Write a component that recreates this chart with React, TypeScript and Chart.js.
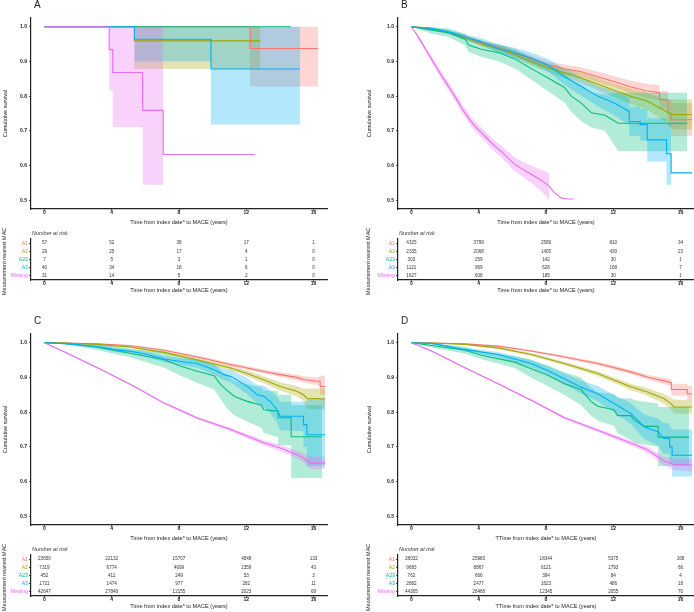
import React, { useEffect, useRef } from "react";
import { Chart, registerables } from "chart.js";

Chart.register(...registerables);
Chart.defaults.font.family = '"Liberation Sans", Arial, sans-serif';

type Row = [number, number, number | null, number | null];

const GROUPS = ["A1", "A2", "A23", "A3", "Missing"];
const COLORS = ["#F8766D", "#A3A500", "#00BF7D", "#00B0F6", "#E76BF3"];
const X_TICKS = [0, 4, 8, 12, 16];
const Y_TICKS = [0.5, 0.6, 0.7, 0.8, 0.9, 1.0];
const RISK_TIMES = [0, 4, 8, 12, 16];

// rows: [time, survival, lower CI, upper CI]
const A_A1: Row[] = [[0,1,1,1],[12.23,1,1,1],[12.23,0.937,0.828,1],[16.27,0.937,0.828,1]];
const A_A2: Row[] = [[0,1,1,1],[5.35,1,1,1],[5.35,0.959,0.878,1],[12.84,0.959,0.878,1]];
const A_A23: Row[] = [[0,1,1,1],[14.65,1,1,1]];
const A_A3: Row[] = [[0,1,1,1],[5.35,1,1,1],[5.35,0.964,0.9,1],[9.9,0.964,0.9,1],[9.9,0.878,0.718,1],[15.19,0.878,0.718,1]];
const A_MISS: Row[] = [[0,1,1,1],[3.85,1,1,1],[3.85,0.934,0.816,1],[4.06,0.934,0.816,1],[4.06,0.868,0.711,1],[5.84,0.868,0.711,1],[5.84,0.759,0.545,1],[7.06,0.759,0.545,1],[7.06,0.632,null,null],[12.5,0.632,null,null]];

const B_A1: Row[] = [[0,1,1,1],[1,0.995,0.993,0.997],[2.2,0.983,0.979,0.987],[3.2,0.97,0.965,0.975],[4.16,0.954,0.948,0.96],[5.2,0.94,0.933,0.947],[6.13,0.925,0.917,0.933],[7.1,0.908,0.899,0.917],[8.1,0.89,0.879,0.9],[9.1,0.879,0.867,0.891],[10.1,0.87,0.857,0.883],[11.1,0.855,0.84,0.87],[12.05,0.842,0.826,0.858],[13,0.827,0.809,0.845],[14,0.815,0.795,0.835],[14.75,0.81,0.788,0.832],[14.75,0.79,0.765,0.815],[15.25,0.79,0.765,0.815],[15.25,0.75,0.715,0.79],[15.44,0.75,0.715,0.79],[15.44,0.732,0.685,0.78],[16.7,0.732,0.685,0.78]];
const B_A2: Row[] = [[0,1,1,1],[1,0.996,0.994,0.998],[2.2,0.984,0.979,0.989],[3.2,0.968,0.962,0.974],[4.16,0.951,0.944,0.958],[5.2,0.936,0.928,0.944],[6.13,0.92,0.911,0.929],[7.1,0.9,0.889,0.911],[8.1,0.882,0.87,0.894],[9.1,0.867,0.853,0.881],[10.1,0.852,0.837,0.867],[11.1,0.834,0.817,0.851],[12.05,0.817,0.798,0.836],[13,0.8,0.778,0.822],[14,0.786,0.762,0.81],[14.8,0.765,0.735,0.795],[15.2,0.755,0.722,0.79],[15.5,0.747,0.705,0.79],[16.7,0.747,0.705,0.79]];
const B_A23: Row[] = [[0,1,1,1],[1.2,0.99,0.98,0.999],[2.2,0.983,0.97,0.995],[3.2,0.963,0.946,0.98],[3.4,0.947,0.927,0.967],[4.16,0.935,0.913,0.957],[5.2,0.925,0.9,0.95],[6.2,0.906,0.878,0.934],[7.2,0.877,0.845,0.909],[8.1,0.853,0.815,0.89],[9.1,0.825,0.782,0.868],[9.5,0.8,0.755,0.845],[10.1,0.78,0.728,0.832],[10.7,0.752,0.71,0.81],[11.5,0.745,0.7,0.805],[12.3,0.722,0.641,0.81],[16.4,0.722,0.641,0.81]];
const B_A3: Row[] = [[0,1,1,1],[1.2,0.995,0.992,0.998],[2.2,0.985,0.979,0.991],[3.15,0.971,0.963,0.979],[4.16,0.957,0.947,0.967],[5.15,0.937,0.925,0.949],[6.13,0.925,0.911,0.939],[7.1,0.91,0.894,0.926],[8.1,0.89,0.872,0.908],[9.1,0.856,0.833,0.879],[10.1,0.828,0.801,0.855],[11.1,0.8,0.77,0.83],[12.05,0.78,0.745,0.815],[12.95,0.756,0.716,0.796],[12.95,0.727,0.685,0.77],[13.6,0.727,0.685,0.77],[13.6,0.718,0.672,0.764],[14.02,0.718,0.672,0.764],[14.02,0.674,0.612,0.736],[15.17,0.674,0.612,0.736],[15.17,0.634,0.545,0.72],[15.44,0.634,0.545,0.72],[15.44,0.579,null,null],[16.7,0.579,null,null]];
const B_MISS: Row[] = [[0,1,1,1],[0.3,0.978,0.974,0.982],[0.61,0.954,0.948,0.96],[0.9,0.93,0.922,0.938],[1.2,0.906,0.897,0.915],[1.5,0.882,0.872,0.892],[1.8,0.858,0.847,0.869],[2.1,0.836,0.825,0.847],[2.39,0.814,0.802,0.826],[2.7,0.79,0.778,0.802],[2.98,0.766,0.753,0.779],[3.3,0.744,0.731,0.757],[3.57,0.725,0.712,0.738],[3.9,0.707,0.693,0.721],[4.16,0.695,0.681,0.709],[4.5,0.678,0.663,0.693],[4.75,0.666,0.651,0.681],[5.05,0.652,0.636,0.668],[5.35,0.64,0.623,0.657],[5.65,0.626,0.608,0.644],[5.94,0.612,0.593,0.631],[6.25,0.6,0.58,0.62],[6.53,0.592,0.571,0.613],[6.85,0.583,0.56,0.606],[7.12,0.575,0.55,0.6],[7.4,0.567,0.54,0.594],[7.71,0.558,0.527,0.589],[8.0,0.548,0.512,0.584],[8.2,0.54,0.5,0.578],[8.5,0.522,null,null],[8.9,0.507,null,null],[9.3,0.504,null,null],[9.65,0.504,null,null]];

const C_A1: Row[] = [[0,1,1,1],[1.2,0.999,0.999,1],[3.18,0.997,0.996,0.998],[5.15,0.991,0.989,0.993],[7.12,0.978,0.975,0.981],[9.09,0.959,0.955,0.963],[11.07,0.937,0.932,0.942],[13.04,0.917,0.911,0.923],[14.02,0.908,0.901,0.915],[15.0,0.9,0.892,0.908],[15.4,0.894,0.885,0.903],[16.19,0.889,0.878,0.9],[16.39,0.889,0.875,0.903],[16.39,0.874,0.85,0.905],[16.69,0.874,0.85,0.905]];
const C_A2: Row[] = [[0,1,1,1],[1.2,0.999,0.998,1],[3.18,0.995,0.993,0.997],[5.15,0.987,0.984,0.99],[7.12,0.972,0.968,0.976],[9.09,0.951,0.946,0.956],[11.07,0.927,0.92,0.934],[12.05,0.911,0.903,0.919],[13.04,0.893,0.883,0.903],[14.02,0.874,0.862,0.886],[15.0,0.86,0.845,0.875],[15.4,0.85,0.832,0.868],[15.6,0.84,0.81,0.868],[16.69,0.838,0.808,0.868]];
const C_A23: Row[] = [[0,1,1,1],[1.2,0.998,0.996,1],[3.18,0.987,0.978,0.996],[5.15,0.969,0.957,0.981],[7.12,0.951,0.928,0.974],[8.1,0.932,0.905,0.959],[9.09,0.918,0.884,0.95],[10.08,0.905,0.865,0.94],[10.47,0.88,0.838,0.92],[10.87,0.862,0.81,0.905],[11.3,0.845,0.79,0.89],[12.05,0.831,0.772,0.88],[12.9,0.82,0.755,0.872],[13.04,0.807,0.74,0.862],[13.9,0.803,0.728,0.86],[13.9,0.784,0.705,0.85],[14.67,0.784,0.705,0.85],[14.67,0.729,0.61,0.82],[16.5,0.729,0.61,0.82]];
const C_A3: Row[] = [[0,1,1,1],[1.2,0.997,0.995,0.999],[3.18,0.989,0.984,0.994],[4.16,0.98,0.974,0.986],[5.15,0.975,0.968,0.982],[6.13,0.966,0.958,0.974],[7.12,0.953,0.944,0.962],[8.1,0.946,0.936,0.956],[9.09,0.94,0.928,0.952],[10.08,0.922,0.908,0.936],[10.67,0.908,0.892,0.924],[11.07,0.903,0.885,0.921],[12.05,0.875,0.852,0.898],[12.64,0.85,0.825,0.878],[13.04,0.846,0.815,0.877],[13.43,0.83,0.797,0.863],[13.83,0.807,0.77,0.845],[14.02,0.788,0.748,0.83],[15.4,0.788,0.745,0.83],[15.4,0.764,0.7,0.83],[15.6,0.764,0.7,0.83],[15.6,0.735,0.645,0.84],[16.69,0.735,0.645,0.84]];
const C_MISS: Row[] = [[0,1,1,1],[1.2,0.973,0.971,0.975],[3.18,0.927,0.925,0.929],[5.15,0.879,0.877,0.881],[7.12,0.826,0.823,0.829],[9.09,0.783,0.779,0.787],[11.07,0.75,0.745,0.755],[13.04,0.712,0.705,0.719],[14.02,0.697,0.688,0.706],[15.0,0.678,0.667,0.689],[15.4,0.669,0.656,0.682],[15.6,0.66,0.645,0.675],[15.8,0.654,0.636,0.672],[16.69,0.654,0.636,0.672]];

const D_A1: Row[] = [[0,1,1,1],[1.2,0.999,0.999,1],[3.18,0.997,0.996,0.998],[5.15,0.99,0.988,0.992],[7.12,0.976,0.973,0.979],[9.09,0.959,0.955,0.963],[11.07,0.94,0.935,0.945],[13.04,0.916,0.91,0.922],[14.02,0.901,0.894,0.908],[15.0,0.89,0.881,0.899],[15.45,0.885,0.875,0.895],[15.45,0.865,0.848,0.882],[16.4,0.865,0.848,0.882],[16.4,0.853,0.835,0.876],[16.69,0.853,0.835,0.876]];
const D_A2: Row[] = [[0,1,1,1],[1.2,0.999,0.998,1],[3.18,0.995,0.993,0.997],[5.15,0.985,0.982,0.988],[7.12,0.966,0.962,0.97],[9.09,0.94,0.935,0.945],[11.07,0.911,0.904,0.918],[13.04,0.873,0.864,0.882],[14.02,0.858,0.847,0.869],[15.0,0.839,0.825,0.853],[15.4,0.826,0.81,0.842],[15.6,0.815,0.796,0.836],[16.69,0.815,0.795,0.836]];
const D_A23: Row[] = [[0,1,1,1],[1.2,0.992,0.986,0.998],[3.18,0.978,0.968,0.988],[4.16,0.964,0.952,0.976],[5.15,0.954,0.94,0.968],[6.13,0.944,0.927,0.961],[7.12,0.925,0.899,0.951],[8.1,0.906,0.875,0.935],[9.09,0.882,0.849,0.915],[10.08,0.865,0.82,0.9],[10.67,0.831,0.79,0.87],[11.07,0.817,0.776,0.858],[12.05,0.807,0.76,0.852],[12.25,0.79,0.74,0.84],[13.04,0.79,0.72,0.84],[13.25,0.777,0.712,0.835],[13.83,0.759,0.707,0.83],[14.67,0.759,0.7,0.825],[14.67,0.728,0.645,0.815],[16.5,0.728,0.645,0.815]];
const D_A3: Row[] = [[0,1,1,1],[1.2,0.998,0.996,1],[3.18,0.98,0.975,0.985],[5.15,0.966,0.959,0.973],[7.12,0.94,0.93,0.95],[8.1,0.92,0.908,0.932],[9.09,0.896,0.88,0.912],[10.08,0.872,0.853,0.891],[11.07,0.853,0.831,0.875],[12.05,0.825,0.8,0.85],[13.04,0.796,0.766,0.826],[13.83,0.758,0.723,0.793],[14.67,0.743,0.704,0.782],[15.0,0.724,0.68,0.768],[15.35,0.724,0.68,0.768],[15.35,0.7,0.65,0.755],[15.5,0.7,0.65,0.755],[15.5,0.676,0.615,0.75],[16.69,0.676,0.615,0.75]];
const D_MISS: Row[] = [[0,1,1,1],[1.2,0.976,0.974,0.978],[3.18,0.928,0.926,0.93],[5.15,0.882,0.88,0.884],[7.12,0.834,0.831,0.837],[9.09,0.784,0.78,0.788],[11.07,0.748,0.743,0.753],[13.04,0.711,0.704,0.718],[14.02,0.692,0.683,0.701],[14.6,0.673,0.662,0.684],[15.0,0.659,0.646,0.672],[15.6,0.65,0.634,0.666],[16.69,0.647,0.628,0.666]];

// numbers at risk (rows follow GROUPS, columns follow RISK_TIMES)
const RISK_A = [[57,52,38,17,1],[29,25,17,4,0],[7,5,3,1,0],[40,34,18,6,0],[31,14,5,2,0]];
const RISK_B = [[4325,3799,2589,810,34],[2335,2068,1405,430,23],[303,259,142,30,1],[1121,969,628,168,7],[1627,608,185,30,1]];
const RISK_C = [[23650,22132,15707,4548,133],[7319,6774,4699,1359,43],[452,411,249,53,3],[1721,1474,977,282,11],[42647,27848,12155,2023,69]];
const RISK_D = [[28032,25983,18344,5375,168],[9683,8867,6121,1793,66],[762,666,394,84,4],[2882,2477,1623,486,18],[44305,28468,12345,2055,70]];

const X_TITLE = "Time from index date* to MACE (years)";
const X_TITLE_D = "TTime from index date* to MACE (years)";
const Y_TITLE = "Cumulative survival";
const RISK_Y_TITLE = "Measurement nearest MACE";
const RISK_LABEL = "Number at risk";

interface Panel {
  letter: string; left: number; top: number; padL: number; yW: number; padR: number;
  curves: Row[][]; risk: number[][]; xTitle: string;
}

const PANELS: Panel[] = [
  { letter: "A", left: 0, top: 0, padL: 0, yW: 31, padR: 20, curves: [A_A1, A_A2, A_A23, A_A3, A_MISS], risk: RISK_A, xTitle: X_TITLE },
  { letter: "B", left: 347, top: 0, padL: 17, yW: 34, padR: 0, curves: [B_A1, B_A2, B_A23, B_A3, B_MISS], risk: RISK_B, xTitle: X_TITLE },
  { letter: "C", left: 0, top: 316, padL: 0, yW: 31, padR: 20, curves: [C_A1, C_A2, C_A23, C_A3, C_MISS], risk: RISK_C, xTitle: X_TITLE },
  { letter: "D", left: 347, top: 316, padL: 17, yW: 34, padR: 0, curves: [D_A1, D_A2, D_A23, D_A3, D_MISS], risk: RISK_D, xTitle: X_TITLE_D },
];

const W = 347;
const KM_H = 228;
const RISK_H = 68;
const INK = "#222";
const FONT = '"Liberation Sans", Arial, sans-serif';

function rgba(hex: string, a: number) {
  const n = parseInt(hex.slice(1), 16);
  return `rgba(${(n >> 16) & 255},${(n >> 8) & 255},${n & 255},${a})`;
}

function xScale(title: string, h: number, titleBottom: number) {
  return {
    type: "linear",
    min: -0.8,
    max: 16.8,
    afterBuildTicks: (s: any) => { s.ticks = X_TICKS.map((v) => ({ value: v })); },
    afterFit: (s: any) => { s.height = h; },
    ticks: { color: INK, font: { size: 5, weight: "bold" }, padding: -1, maxRotation: 0, autoSkip: false, callback: (v: any) => String(v) },
    grid: { drawOnChartArea: false, drawTicks: true, tickLength: 2, color: INK, lineWidth: 0.8 },
    border: { display: true, color: INK, width: 1.2 },
    title: { display: true, text: title, color: INK, font: { size: 5.6 }, padding: { top: 0, bottom: titleBottom } },
  };
}

function KMPlot({ p }: { p: Panel }) {
  const ref = useRef<HTMLCanvasElement>(null);
  useEffect(() => {
    const datasets: any[] = [];
    p.curves.forEach((rows, g) => {
      const ord = 10 + (4 - g);
      datasets.push({
        data: rows.map((r) => ({ x: r[0], y: r[3] })),
        borderWidth: 0, borderColor: "rgba(0,0,0,0)", pointRadius: 0, fill: false, order: ord,
      });
      datasets.push({
        data: rows.map((r) => ({ x: r[0], y: r[2] })),
        borderWidth: 0, borderColor: "rgba(0,0,0,0)", pointRadius: 0, fill: "-1",
        backgroundColor: rgba(COLORS[g], 0.3), order: ord,
      });
    });
    p.curves.forEach((rows, g) => {
      datasets.push({
        data: rows.map((r) => ({ x: r[0], y: r[1] })),
        borderColor: COLORS[g], borderWidth: 1.1, pointRadius: 0, fill: false, order: 4 - g,
      });
    });
    const chart = new Chart(ref.current as HTMLCanvasElement, {
      type: "line",
      data: { datasets },
      options: {
        animation: false,
        responsive: false,
        events: [],
        layout: { padding: { left: p.padL, right: p.padR, top: 18, bottom: 0 } },
        plugins: { legend: { display: false }, tooltip: { enabled: false } },
        scales: {
          x: xScale(p.xTitle, 19, 2.6) as any,
          y: {
            type: "linear",
            min: 0.475,
            max: 1.025,
            afterBuildTicks: (s: any) => { s.ticks = Y_TICKS.map((v) => ({ value: v })); },
            afterFit: (s: any) => { s.width = p.yW; },
            ticks: { color: INK, font: { size: 5, weight: "bold" }, padding: 2, callback: (v: any) => Number(v).toFixed(1) },
            grid: { drawOnChartArea: false, drawTicks: true, tickLength: 2, color: INK, lineWidth: 0.8 },
            border: { display: true, color: INK, width: 1.2 },
            title: { display: true, text: Y_TITLE, color: INK, font: { size: 5.5 }, padding: { top: 2, bottom: 0 } },
          },
        },
      },
      plugins: [
        {
          id: "panelLetter",
          afterDraw(c: any) {
            const ctx = c.ctx;
            ctx.save();
            ctx.font = `10px ${FONT}`;
            ctx.fillStyle = INK;
            ctx.textAlign = "left";
            ctx.textBaseline = "alphabetic";
            ctx.fillText(p.letter, c.chartArea.left + 3, 7.5);
            ctx.restore();
          },
        },
      ],
    } as any);
    return () => chart.destroy();
  }, [p]);
  return (
    <canvas
      ref={ref}
      width={W}
      height={KM_H}
      style={{ position: "absolute", left: p.left, top: p.top, width: W, height: KM_H }}
    />
  );
}

function RiskPlot({ p }: { p: Panel }) {
  const ref = useRef<HTMLCanvasElement>(null);
  useEffect(() => {
    const chart = new Chart(ref.current as HTMLCanvasElement, {
      type: "scatter",
      data: { datasets: [] },
      options: {
        animation: false,
        responsive: false,
        events: [],
        layout: { padding: { left: p.padL, right: p.padR, top: 11, bottom: 0 } },
        plugins: { legend: { display: false }, tooltip: { enabled: false } },
        scales: {
          x: xScale(p.xTitle, 16, 2) as any,
          y: {
            type: "linear",
            min: -0.5,
            max: 4.5,
            reverse: true,
            afterBuildTicks: (s: any) => { s.ticks = GROUPS.map((_, i) => ({ value: i })); },
            afterFit: (s: any) => { s.width = p.yW; },
            ticks: {
              font: { size: 5.2 },
              padding: 1,
              color: (c: any) => COLORS[c.index] || INK,
              callback: (_v: any, i: number) => GROUPS[i],
            },
            grid: { drawOnChartArea: false, drawTicks: true, tickLength: 2, color: INK, lineWidth: 0.8 },
            border: { display: true, color: INK, width: 1.2 },
            title: { display: true, text: RISK_Y_TITLE, color: INK, font: { size: 5.5 }, padding: { top: 1, bottom: 0 } },
          },
        },
      },
      plugins: [
        {
          id: "riskNumbers",
          afterDraw(c: any) {
            const ctx = c.ctx;
            const xs = c.scales.x;
            const ys = c.scales.y;
            ctx.save();
            ctx.font = `4.6px ${FONT}`;
            ctx.fillStyle = "#333";
            ctx.textAlign = "center";
            ctx.textBaseline = "middle";
            p.risk.forEach((row, g) => {
              row.forEach((n, j) => {
                ctx.fillText(String(n), xs.getPixelForValue(RISK_TIMES[j]), ys.getPixelForValue(g));
              });
            });
            ctx.font = `italic 5.5px ${FONT}`;
            ctx.textAlign = "left";
            ctx.fillText(RISK_LABEL, c.chartArea.left + 1, c.chartArea.top - 6);
            ctx.restore();
          },
        },
      ],
    } as any);
    return () => chart.destroy();
  }, [p]);
  return (
    <canvas
      ref={ref}
      width={W}
      height={RISK_H}
      style={{ position: "absolute", left: p.left, top: p.top + KM_H, width: W, height: RISK_H }}
    />
  );
}

export default function App() {
  return (
    <div style={{ position: "absolute", left: 0, top: 0, width: 694, height: 612, overflow: "hidden", background: "#fff" }}>
      {PANELS.map((p) => (
        <React.Fragment key={p.letter}>
          <KMPlot p={p} />
          <RiskPlot p={p} />
        </React.Fragment>
      ))}
    </div>
  );
}
